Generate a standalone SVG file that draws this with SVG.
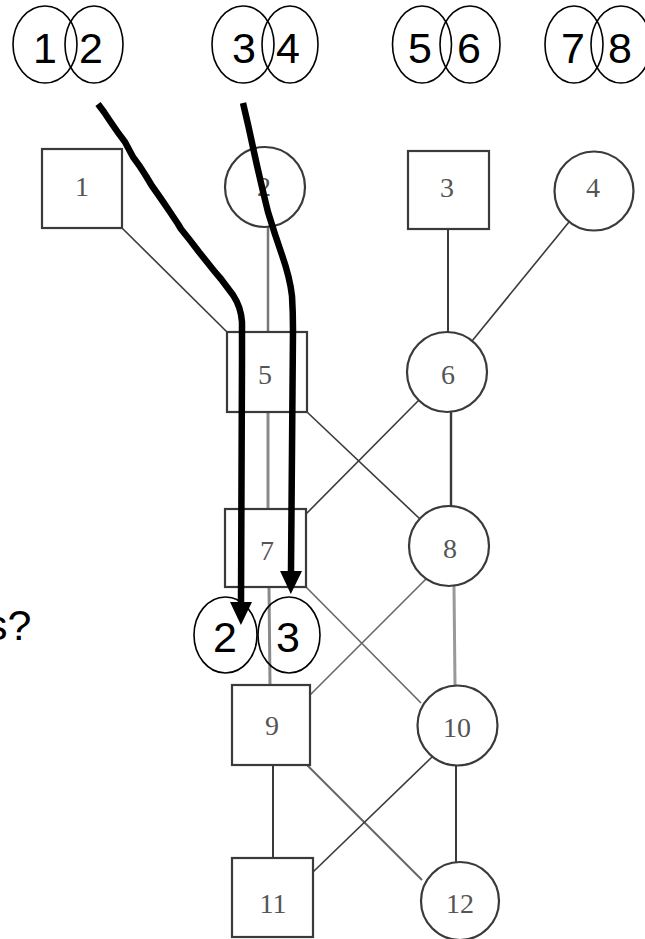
<svg xmlns="http://www.w3.org/2000/svg" width="645" height="939" viewBox="0 0 645 939">
  <style>
    .sq { fill: #fff; stroke: #3a3a3a; stroke-width: 2.2; }
    .ci { fill: #fff; stroke: #3a3a3a; stroke-width: 2.2; }
    .lbl { font-family: "Liberation Serif", "DejaVu Serif", serif; font-size: 28px; fill: #555; text-anchor: middle; }
    .edge { fill: none; stroke: #3a3a3a; stroke-width: 1.6; }
    .edge-g { fill: none; stroke: #8a8a8a; stroke-width: 3; }
    .ring { fill: none; stroke: #000; stroke-width: 1.6; }
    .big { font-family: "Liberation Sans", Arial, sans-serif; font-size: 43px; fill: #000; text-anchor: middle; }
    .path { fill: none; stroke: #000; stroke-width: 6.5; stroke-linecap: butt; stroke-linejoin: round; }
  </style>
  <defs>
    <marker id="head" markerUnits="userSpaceOnUse" markerWidth="23" markerHeight="23" refX="0" refY="11" orient="auto">
      <path d="M0,0 L23,11 L0,22 z" fill="#000"/>
    </marker>
  </defs>

  <rect x="0" y="0" width="645" height="939" fill="#fff"/>

  <!-- pedigree links -->
  <g id="connectors">
    <path class="edge" d="M122,228 L227,332"/>
    <path class="edge-g" d="M268,227 L268,332" style="stroke:#777;stroke-width:2.5"/>
    <path class="edge" d="M448,229 L448,332" style="stroke-width:2"/>
    <path class="edge" d="M569,222 L472,341"/>
    <path class="edge-g" d="M268,412 L268,509"/>
    <path class="edge" d="M307,412 L420,519"/>
    <path class="edge" d="M419,400 L306,514"/>
    <path class="edge" d="M451,412 L451,506" style="stroke-width:2.4"/>
    <path class="edge-g" d="M269,587 L270,685"/>
    <path class="edge" d="M306,587 L421,703" style="stroke:#666"/>
    <path class="edge" d="M427,578 L310,695" style="stroke:#666"/>
    <path class="edge-g" d="M454,586 L455,685" style="stroke:#999"/>
    <path class="edge" d="M273,765 L273,858" style="stroke-width:2"/>
    <path class="edge" d="M307,765 L422,880" style="stroke:#666;stroke-width:2"/>
    <path class="edge" d="M432,757 L313,872"/>
    <path class="edge" d="M456,766 L456,862" style="stroke-width:2"/>
  </g>

  <!-- individuals -->
  <g id="n1"><rect class="sq" x="42" y="149" width="80" height="79"/><text class="lbl" x="82" y="196">1</text></g>
  <g id="n2"><circle class="ci" cx="265" cy="187" r="40"/><text class="lbl" x="264" y="196">2</text></g>
  <g id="n3"><rect class="sq" x="408" y="151" width="81" height="78"/><text class="lbl" x="447" y="197">3</text></g>
  <g id="n4"><circle class="ci" cx="594" cy="191" r="39.5"/><text class="lbl" x="593" y="197">4</text></g>
  <g id="n5"><rect class="sq" x="227" y="332" width="80" height="80"/><text class="lbl" x="265" y="384">5</text></g>
  <g id="n6"><circle class="ci" cx="447" cy="372" r="40"/><text class="lbl" x="448" y="384">6</text></g>
  <g id="n7"><rect class="sq" x="225" y="509" width="81" height="78"/><text class="lbl" x="267" y="560">7</text></g>
  <g id="n8"><circle class="ci" cx="449" cy="546" r="40"/><text class="lbl" x="450" y="558">8</text></g>
  <g id="n9"><rect class="sq" x="232" y="685" width="78" height="80"/><text class="lbl" x="272" y="735">9</text></g>
  <g id="n10"><circle class="ci" cx="457.5" cy="725.5" r="40"/><text class="lbl" x="457" y="737">10</text></g>
  <g id="n11"><rect class="sq" x="232" y="858" width="81" height="79"/><text class="lbl" x="273" y="913">11</text></g>
  <g id="n12"><circle class="ci" cx="460" cy="901" r="39"/><text class="lbl" x="460" y="913">12</text></g>

  <!-- numbered pairs along the top -->
  <g id="pair-12">
    <ellipse class="ring" cx="45" cy="44.5" rx="32" ry="38.5"/>
    <ellipse class="ring" cx="94" cy="44.5" rx="29" ry="38.5"/>
    <text class="big" x="45" y="63">1</text>
    <text class="big" x="91" y="63">2</text>
  </g>
  <g id="pair-34">
    <ellipse class="ring" cx="243" cy="44.5" rx="31" ry="38.5"/>
    <ellipse class="ring" cx="290" cy="44.5" rx="28" ry="38.5"/>
    <text class="big" x="244" y="63">3</text>
    <text class="big" x="288" y="63">4</text>
  </g>
  <g id="pair-56">
    <ellipse class="ring" cx="422" cy="44.5" rx="29.5" ry="38.5"/>
    <ellipse class="ring" cx="470" cy="44.5" rx="30" ry="38.5"/>
    <text class="big" x="420" y="63">5</text>
    <text class="big" x="469" y="63">6</text>
  </g>
  <g id="pair-78">
    <ellipse class="ring" cx="574" cy="44.5" rx="29" ry="38.5"/>
    <ellipse class="ring" cx="621" cy="44.5" rx="30" ry="38.5"/>
    <text class="big" x="573" y="63">7</text>
    <text class="big" x="620" y="63">8</text>
  </g>

  <!-- hand-drawn tracing paths -->
  <g id="paths">
    <path class="path" marker-end="url(#head)" d="M98,104 L104,112 L110,121 Q118,133 125,142 L133,157 Q140,166 146,176 L152,186 L157,193 Q164,203 170,212 L178,224 L181,229 Q190,240 199,252 L207,262 Q214,271 221,279 L233,295 Q241,307 242,322 L242,360 L241,602"/>
    <path class="path" marker-end="url(#head)" d="M243,103 Q249,128 254,152 Q261,184 268,212 Q275,235 282,255 Q290,278 292,296 Q293,312 293,330 L291,571"/>
  </g>

  <!-- pair at the bottom of the paths -->
  <g id="pair-23">
    <ellipse class="ring" cx="225.5" cy="635" rx="31.5" ry="38"/>
    <ellipse class="ring" cx="289" cy="635" rx="31" ry="38"/>
    <text class="big" x="225" y="652">2</text>
    <text class="big" x="288" y="652">3</text>
  </g>

  <!-- caption ending, runs off the left edge -->
  <text id="question" class="big" x="-14" y="640" style="text-anchor:start">s?</text>
</svg>
